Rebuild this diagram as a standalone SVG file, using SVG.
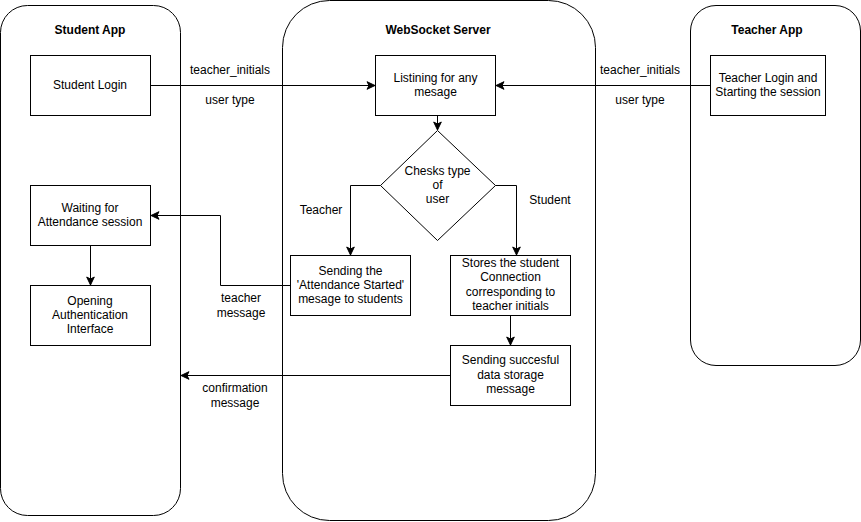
<svg xmlns="http://www.w3.org/2000/svg" width="861" height="522" viewBox="0 0 861 522">
<style>
.box{fill:#fff;stroke:#000;stroke-width:1}
.t{font-family:"Liberation Sans",Arial,sans-serif;font-size:12px;fill:#000;text-anchor:middle;dominant-baseline:central}
.b{font-weight:bold}
.c{fill:none;stroke:#000;stroke-width:1}
</style>
<defs>
<marker id="ah" markerUnits="userSpaceOnUse" markerWidth="10" markerHeight="10" viewBox="0 0 10 10" refX="9" refY="5" orient="auto">
<path d="M1,1.2 L9,5 L1,8.8 L3,5 z" fill="#000" stroke="#000" stroke-width="1"/>
</marker>
</defs>
<rect width="861" height="522" fill="#fff"/>
<g id="student-app">
<rect class="box" x="0.5" y="5.5" width="180" height="510" rx="27" ry="27"/>
<text class="t b" x="90" y="30">Student App</text>
</g>
<g id="server">
<rect class="box" x="282.5" y="0.5" width="313" height="520" rx="47" ry="47"/>
<text class="t b" x="438" y="30">WebSocket Server</text>
</g>
<g id="teacher-app">
<rect class="box" x="690.5" y="5.5" width="170" height="360" rx="25.5" ry="25.5"/>
<text class="t b" x="767" y="30">Teacher App</text>
</g>
<g id="student-login">
<rect class="box" x="30.5" y="55.5" width="120" height="60"/>
<text class="t" x="90" y="85">Student Login</text>
</g>
<g id="waiting">
<rect class="box" x="30.5" y="185.5" width="120" height="60"/>
<text class="t" x="90" y="208">Waiting for</text>
<text class="t" x="90" y="222">Attendance session</text>
</g>
<g id="opening">
<rect class="box" x="30.5" y="285.5" width="120" height="60"/>
<text class="t" x="90" y="301">Opening</text>
<text class="t" x="90" y="315">Authentication</text>
<text class="t" x="90" y="329">Interface</text>
</g>
<g id="listening">
<rect class="box" x="375.5" y="55.5" width="120" height="60"/>
<text class="t" x="435.5" y="78">Listining for any</text>
<text class="t" x="435.5" y="92">mesage</text>
</g>
<g id="check">
<polygon class="box" points="437.5,130.5 495.5,185.5 437.5,240.5 380.5,185.5"/>
<text class="t" x="437.5" y="171">Chesks type</text>
<text class="t" x="437.5" y="185">of</text>
<text class="t" x="437.5" y="199">user</text>
</g>
<g id="teacher-login">
<rect class="box" x="710.5" y="55.5" width="115" height="60"/>
<text class="t" x="768" y="78">Teacher Login and</text>
<text class="t" x="768" y="92">Starting the session</text>
</g>
<g id="sending-started">
<rect class="box" x="290.5" y="255.5" width="120" height="60"/>
<text class="t" x="350.5" y="271">Sending the</text>
<text class="t" x="350.5" y="285">'Attendance Started'</text>
<text class="t" x="350.5" y="299">mesage to students</text>
</g>
<g id="stores">
<rect class="box" x="450.5" y="255.5" width="120" height="60"/>
<text class="t" x="510.5" y="263">Stores the student</text>
<text class="t" x="510.5" y="277">Connection</text>
<text class="t" x="510.5" y="292">corresponding to</text>
<text class="t" x="510.5" y="306">teacher initials</text>
</g>
<g id="sending-success">
<rect class="box" x="450.5" y="345.5" width="120" height="60"/>
<text class="t" x="510.5" y="360">Sending succesful</text>
<text class="t" x="510.5" y="375">data storage</text>
<text class="t" x="510.5" y="389">message</text>
</g>
<g id="connectors">
<path class="c" d="M150.5,85.5 L375,85.5" marker-end="url(#ah)"/>
<text class="t" x="230" y="70">teacher_initials</text>
<text class="t" x="230" y="100">user type</text>
<path class="c" d="M710.5,85.5 L496,85.5" marker-end="url(#ah)"/>
<text class="t" x="640" y="70">teacher_initials</text>
<text class="t" x="640" y="100">user type</text>
<path class="c" d="M437.5,115.5 L437.5,130" marker-end="url(#ah)"/>
<path class="c" d="M380.5,185.5 L350.5,185.5 L350.5,255" marker-end="url(#ah)"/>
<text class="t" x="321" y="210">Teacher</text>
<path class="c" d="M495.5,185.5 L516.5,185.5 L516.5,255" marker-end="url(#ah)"/>
<text class="t" x="550" y="200">Student</text>
<path class="c" d="M290.5,285.5 L220.5,285.5 L220.5,215.5 L151,215.5" marker-end="url(#ah)"/>
<text class="t" x="241" y="298">teacher</text>
<text class="t" x="241" y="313">message</text>
<path class="c" d="M90.5,245.5 L90.5,285" marker-end="url(#ah)"/>
<path class="c" d="M510.5,315.5 L510.5,345" marker-end="url(#ah)"/>
<path class="c" d="M450.5,375.5 L181,375.5" marker-end="url(#ah)"/>
<text class="t" x="235" y="388">confirmation</text>
<text class="t" x="235" y="403">message</text>
</g>
</svg>
